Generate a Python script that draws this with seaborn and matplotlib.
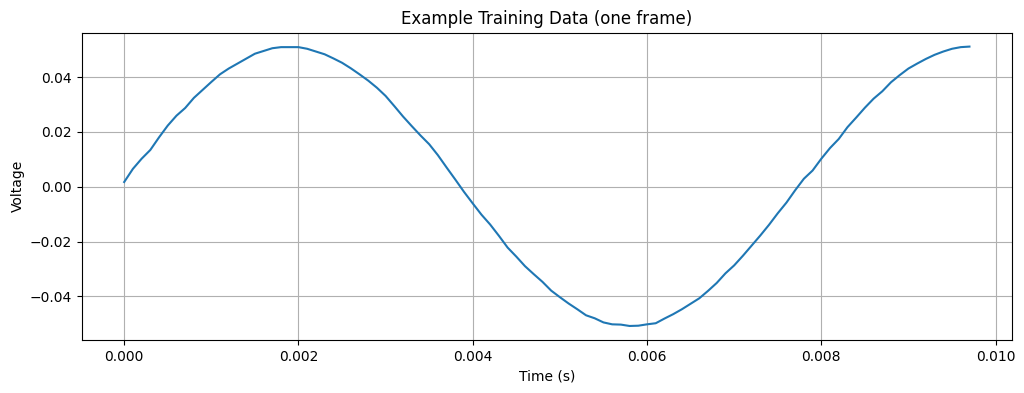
import numpy as np
import pandas as pd
import matplotlib
matplotlib.use("Agg")
import matplotlib.pyplot as plt
import seaborn as sns

time_s = [round(i * 0.0001, 4) for i in range(98)]
voltage = [
    0.0017, 0.0065, 0.0102, 0.0134, 0.0180, 0.0223, 0.0259, 0.0287, 0.0324, 0.0353,
    0.0382, 0.0410, 0.0431, 0.0449, 0.0467, 0.0485, 0.0495, 0.0505, 0.0509, 0.0509,
    0.0509, 0.0503, 0.0493, 0.0483, 0.0468, 0.0452, 0.0432, 0.0410, 0.0387, 0.0361,
    0.0331, 0.0294, 0.0256, 0.0221, 0.0187, 0.0155, 0.0115, 0.0070, 0.0026, -0.0019,
    -0.0061, -0.0102, -0.0138, -0.0179, -0.0222, -0.0255, -0.0290, -0.0319, -0.0347, -0.0379,
    -0.0403, -0.0426, -0.0447, -0.0469, -0.0480, -0.0495, -0.0502, -0.0503, -0.0508, -0.0507,
    -0.0502, -0.0498, -0.0481, -0.0465, -0.0447, -0.0427, -0.0407, -0.0380, -0.0351, -0.0316,
    -0.0287, -0.0252, -0.0215, -0.0178, -0.0139, -0.0097, -0.0058, -0.0013, 0.0029, 0.0059,
    0.0102, 0.0141, 0.0174, 0.0217, 0.0252, 0.0288, 0.0321, 0.0348, 0.0381, 0.0407,
    0.0431, 0.0449, 0.0466, 0.0481, 0.0493, 0.0503, 0.0509, 0.0511,
]

df = pd.DataFrame({"Time (s)": time_s, "Voltage": voltage})

fig, ax = plt.subplots(figsize=(10.24, 3.93), dpi=100)
fig.subplots_adjust(left=0.080, right=0.988, top=0.917, bottom=0.135)
sns.lineplot(data=df, x="Time (s)", y="Voltage", ax=ax, color="#1f77b4", linewidth=1.5)
ax.grid(True)
ax.set_title("Example Training Data (one frame)")
ax.set_xlabel("Time (s)")
ax.set_ylabel("Voltage")
fig.savefig("out.png", dpi=100)
